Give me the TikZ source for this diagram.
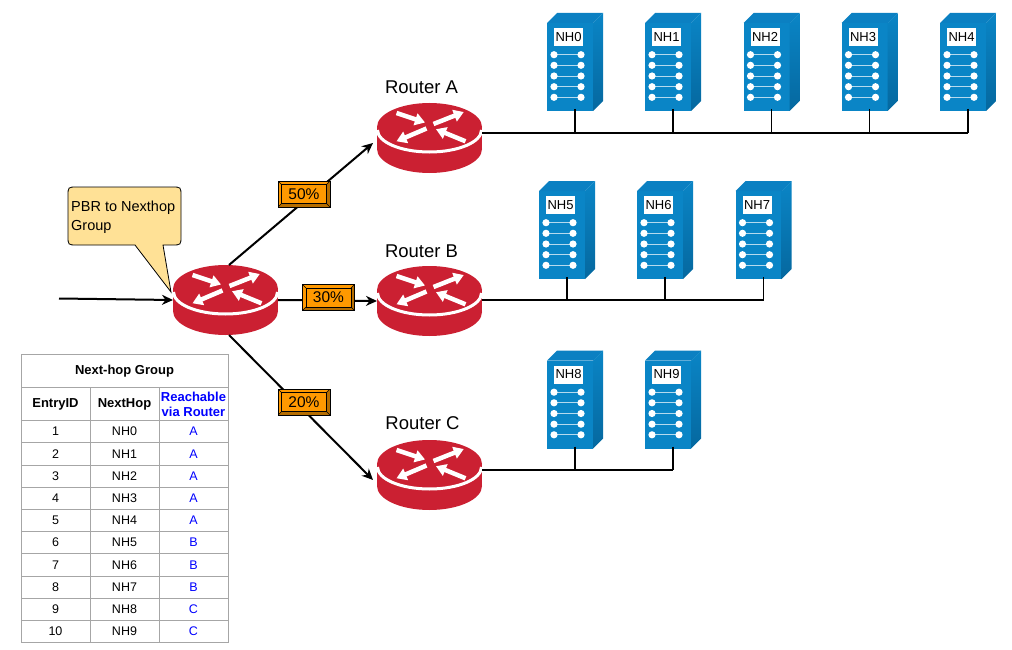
\documentclass[tikz,border=0pt]{standalone}
\usepackage{fontspec}
\setmainfont{Liberation Sans}
\usetikzlibrary{arrows.meta}

\definecolor{routerred}{HTML}{CB2032}
\definecolor{srvfront}{HTML}{0A85C6}
\definecolor{srvtop}{HTML}{0B80C2}
\definecolor{srvside}{HTML}{05689F}
\definecolor{pctfill}{HTML}{FF9900}
\definecolor{pctdark}{HTML}{B56D00}
\definecolor{notefill}{HTML}{FFE196}
\definecolor{tblline}{HTML}{A6A6A6}

\tikzset{
  routerbox/.style={minimum width=105, minimum height=70, inner sep=0, outer sep=0},
  serverbox/.style={minimum width=56, minimum height=98, inner sep=0, outer sep=0},
  routername/.style={font=\fontsize{18.5}{20}\selectfont, inner sep=0},
  pct/.style={draw=black, line width=1, fill=pctfill, minimum width=52, minimum height=26, inner sep=0,
    font=\fontsize{15.5}{17}\selectfont,
    path picture={
      \coordinate (bsw) at (path picture bounding box.south west);
      \coordinate (bne) at (path picture bounding box.north east);
      \coordinate (bse) at (path picture bounding box.south east);
      \coordinate (bnw) at (path picture bounding box.north west);
      \fill[pctdark] (bsw) -- (bse) -- (bne) -- ([shift={(-3.5,3.5)}]bne) -- ([shift={(-3.5,-3.5)}]bse) -- ([shift={(3.5,-3.5)}]bsw) -- cycle;
      \draw[black, line width=0.6] ([shift={(3.5,-3.5)}]bsw) rectangle ([shift={(-3.5,3.5)}]bne);
      \draw[black, line width=0.5] (bsw) -- ++(3.5,-3.5) (bse) -- ++(-3.5,-3.5) (bne) -- ++(-3.5,3.5) (bnw) -- ++(3.5,3.5);
    }},
  link/.style={black, line width=2, -{Stealth[length=11, width=10, inset=3.5]}},
  bus/.style={black, line width=2.8},
  stem/.style={black, line width=1.6},
  cell/.style={draw=tblline, line width=0.7, minimum width=69, minimum height=22.2, inner sep=0, outer sep=0,
    font=\fontsize{12.5}{14}\selectfont},
  headcell/.style={cell, minimum height=33, font=\fontsize{13}{15}\bfseries\selectfont, align=center},
  pics/router/.style={code={
    \fill[routerred] (0,-11) circle[x radius=52.5, y radius=24];
    \fill[routerred] (0,11) circle[x radius=52.5, y radius=24];
    \fill[routerred] (-52.5,-11) rectangle (52.5,11);
    \draw[white, line width=3] (52,-8) arc[start angle=0, end angle=180, x radius=52, y radius=22];
    \begin{scope}[white, line width=4.5, -{Triangle[length=10, width=12]}]
      \draw (-33,-25) -- (-4.5,-15.5);
      \draw (4,-14) -- (34.3,-26);
      \draw (-3,-9.5) -- (-33,3.3);
      \draw (36,3.3) -- (6.5,-8.8);
    \end{scope}
  }},
  pics/server/.style={code={
    \fill[srvfront] (-28,-39) rectangle (18,49);
    \fill[srvtop] (-28,-39) -- (-18,-49) -- (28,-49) -- (18,-39) -- cycle;
    \shade[top color=srvfront, bottom color=srvside] (18,-39) -- (28,-49) -- (28,39) -- (18,49) -- cycle;
    \node[fill=white, minimum width=29, minimum height=18, inner sep=0, font=\fontsize{13}{15}\selectfont] (label) at (-6.5,-25) {#1};
    \foreach \rowy in {-7.3,3.3,14,24.7,35.3} {
      \draw[white!70!srvfront, line width=0.8] (-21,\rowy) -- (6,\rowy);
      \fill[white] (-21,\rowy) circle[radius=3.6];
      \fill[white] (6,\rowy) circle[radius=3.6];
    }
  }}
}

\begin{document}
\begin{tikzpicture}[x=1pt, y=-1pt]
  \useasboundingbox (0,0) rectangle (1012,650);

  % routers
  \node [routerbox] (r0) at (225.5,300) {};
  \node [routerbox] (ra) at (429.5,138) {};
  \node [routerbox] (rb) at (429.5,301) {};
  \node [routerbox] (rc) at (429.5,475) {};
  \foreach \rname in {r0,ra,rb,rc}
    \pic at (\rname) {router};

  \node [routername] (ralabel) at (421.5,87) {Router A};
  \node [routername] (rblabel) at (421.5,251) {Router B};
  \node [routername] (rclabel) at (422.5,423) {Router C};

  % servers
  \foreach \n/\x/\y in {0/575/62, 1/673/62, 2/771.5/62, 3/869.5/62, 4/968/62,
                        5/567/230, 6/665/230, 7/763.5/230,
                        8/575/399.5, 9/673/399.5} {
    \node [serverbox] (nh\n) at (\x,\y) {};
    \pic (s\n) at (nh\n) {server=NH\n};
  }

  % links
  \coordinate (start) at (59,298.5);
  \draw [link] (start) -- (r0.west);
  \draw [link] (r0.north) ++(3.5,0) -- ([xshift=-4,yshift=-5]ra.west);
  \draw [link] (r0.east) -- (rb.west);
  \draw [link] (r0.south) ++(3.5,0) -- ([xshift=-4,yshift=-5]rc.west);

  % bus lines
  \coordinate (busa) at (968,133);
  \coordinate (busb) at (764,300);
  \coordinate (busc) at (673,470);
  \draw [bus] (ra.east |- busa) -- (busa);
  \draw [bus] (rb.east |- busb) -- (busb);
  \draw [bus] (rc.east |- busc) -- (busc);
  \foreach \n in {0,1,2,3,4}
    \draw [stem] ([yshift=2]nh\n.south) -- (nh\n.south |- busa);
  \foreach \n in {5,6,7}
    \draw [stem] ([yshift=2]nh\n.south) -- (nh\n.south |- busb);
  \foreach \n in {8,9}
    \draw [stem] ([yshift=2]nh\n.south) -- (nh\n.south |- busc);

  % percentages
  \node [pct] (p50) at (304,194) {50\%};
  \node [pct] (p30) at (328.5,297.5) {30\%};
  \node [pct] (p20) at (304,402) {20\%};

  % note
  \draw [black, fill=notefill, line width=0.8] (135,245) -- (77,245) .. controls (68,245) .. (68,236) -- (68,196) .. controls (68,187) .. (77,187)
    -- (172,187) .. controls (181,187) .. (181,196) -- (181,236) .. controls (181,245) .. (172,245) -- (163,245) -- (171,292) -- cycle;
  \node [anchor=west, align=left, inner sep=0, font=\fontsize{14.5}{19}\selectfont] (note) at (71,217) {PBR to Nexthop\\Group};

  % table
  \node [headcell, minimum width=207] (title) at (124.5,371) {Next-hop Group};
  \node [headcell] (hid) at (55.5,404) {EntryID};
  \node [headcell] (hnh) at (124.5,404) {NextHop};
  \node [headcell, text=blue] (hvia) at (193.5,404) {Reachable\\via Router};
  \foreach \id/\nh/\via [count=\i from 0] in {1/NH0/A, 2/NH1/A, 3/NH2/A, 4/NH3/A, 5/NH4/A,
                                              6/NH5/B, 7/NH6/B, 8/NH7/B, 9/NH8/C, 10/NH9/C} {
    \node [cell] (id\i) at (55.5,{431.6+\i*22.2}) {\id};
    \node [cell] (nh\i cell) at (124.5,{431.6+\i*22.2}) {\nh};
    \node [cell, text=blue] (via\i) at (193.5,{431.6+\i*22.2}) {\via};
  }
\end{tikzpicture}
\end{document}
